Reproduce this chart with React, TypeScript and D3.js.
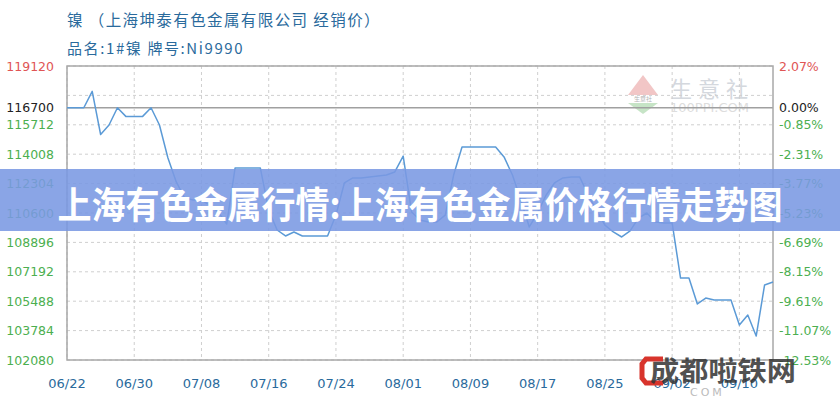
import * as d3 from 'd3'

// 镍 1# Ni9990 daily price, 06/22 .. 09/14
const startDate = '2020-06-22'
const endDate = '2020-09-14'
const prices = [
  116700, 116700, 116700, 117650, 115150, 115700, 116700, 116200, 116200, 116200,
  116700, 115700, 113800, 112400, 111470, 111350, 111350, 111060, 110650, 109960,
  113210, 113210, 113210, 113210, 110770, 109615, 109270, 109500, 109270, 109270,
  109270, 109270, 110480, 112340, 112630, 112630, 112690, 112750, 112800, 112980,
  113900, 110660, 110200, 110080, 110080, 110480, 112800, 114430, 114430, 114430,
  114430, 114430, 113850, 112800, 111350, 109790, 110600, 111640, 112340, 112630,
  112690, 112690, 111640, 110770, 109900, 109500, 109210, 109560, 110310, 110600,
  110080, 110020, 110020, 106830, 106830, 105330, 105670, 105560, 105560, 105560,
  104110, 104690, 103470, 106430, 106600
]
const basePrice = 116700
const gridValues = [119120, 117416, 116700, 115712, 114008, 112304, 110600, 108896, 107192, 105488, 103784, 102080]
const leftLabels = [119120, 116700, 115712, 114008, 112304, 110600, 108896, 107192, 105488, 103784, 102080]
const rightLabels = ['2.07%', '0.00%', '-0.85%', '-2.31%', '-3.77%', '-5.23%', '-6.69%', '-8.15%', '-9.61%', '-11.07%', '-12.53%']
const xTickLabels = ['06/22', '06/30', '07/08', '07/16', '07/24', '08/01', '08/09', '08/17', '08/25', '09/02', '09/10']

const W = 840
const H = 400
const plot = { left: 67, right: 773, top: 66, bottom: 360 }

const RED = '#e05555'
const GREEN = '#4caf50'
const BLUE = '#2a6a9c'

export default function App() {
  const parse = d3.timeParse('%Y-%m-%d')
  const start = parse(startDate) as Date
  const end = parse(endDate) as Date
  const dates = d3.timeDay.range(start, d3.timeDay.offset(end, 1))
  const data = prices.map((v, i) => ({ date: dates[i], value: v }))

  const x = d3.scaleTime().domain([start, end]).range([plot.left, plot.right])
  const y = d3.scaleLinear().domain([102080, 119120]).range([plot.bottom, plot.top])

  const tickDates = xTickLabels.map(s => parse('2020-' + s.replace('/', '-')) as Date)

  const line = d3.line<{ date: Date; value: number }>()
    .x(d => x(d.date))
    .y(d => y(d.value))

  const labelColor = (v: number) => (v > basePrice ? RED : v === basePrice ? '#222' : GREEN)

  return (
    <div style={{ position: 'fixed', left: 0, top: 0 }}>
      <svg width={W} height={H} style={{ display: 'block', background: '#fff' }}>
        {/* heading */}
        <text x={67} y={26} fontFamily="'Noto Sans CJK SC'" fontSize={15.5} letterSpacing={1.4} fill={BLUE}>
          镍 （上海坤泰有色金属有限公司 经销价）
        </text>
        <text x={67} y={54} fontFamily="'Noto Sans CJK SC'" fontSize={15} letterSpacing={1.6} fill={BLUE}>
          品名:1#镍 牌号:Ni9990
        </text>

        {/* 100ppi watermark */}
        <g opacity={0.75}>
          <path d="M628,95 L643,75 L658,95 Z" fill="#eeb4b4" />
          <path d="M628,103 L658,103 L643,114 Z" fill="#b4dcb4" />
          <text x={643} y={101} textAnchor="middle" fontSize={6} fill="#999" fontFamily="'Noto Sans CJK SC'">生意社</text>
          <text x={670} y={97} fontSize={22} letterSpacing={6} fill="#c6cbd3" fontFamily="'Noto Sans CJK SC'">生意社</text>
          <text x={670} y={112} fontSize={13} fill="#d2d2d2" fontFamily="DejaVu Sans">100PPI.COM</text>
        </g>

        {/* grid */}
        {gridValues.map(v => (
          <line key={'h' + v} x1={plot.left} x2={plot.right} y1={y(v)} y2={y(v)}
            stroke={v === basePrice ? '#a0a0a0' : '#cfcfcf'}
            strokeWidth={v === basePrice ? 1.5 : 1}
            strokeDasharray={v === basePrice ? undefined : '3,3'} />
        ))}
        {tickDates.map((d, i) => (
          <line key={'v' + i} x1={x(d)} x2={x(d)} y1={plot.top} y2={plot.bottom}
            stroke="#cfcfcf" strokeDasharray="3,3" />
        ))}
        <rect x={plot.left} y={plot.top} width={plot.right - plot.left} height={plot.bottom - plot.top}
          fill="none" stroke="#a8a8a8" strokeWidth={1.5} />

        {/* price line */}
        <path d={line(data) || ''} fill="none" stroke="#5b9ad6" strokeWidth={1.5} strokeLinejoin="round" />

        {/* left axis */}
        {leftLabels.map(v => (
          <text key={'l' + v} x={54} y={y(v) + 4.5} textAnchor="end" fontFamily="'DejaVu Sans'" fontSize={12.5}
            fill={labelColor(v)}>{v}</text>
        ))}
        {/* right axis */}
        {leftLabels.map((v, i) => (
          <text key={'r' + v} x={779} y={y(v) + 4.5} fontFamily="'DejaVu Sans'" fontSize={12.5}
            fill={labelColor(v)}>{rightLabels[i]}</text>
        ))}
        {/* x axis */}
        {tickDates.map((d, i) => (
          <text key={'x' + i} x={x(d)} y={388} textAnchor="middle" fontFamily="'DejaVu Sans'" fontSize={13}
            fill={BLUE}>{xTickLabels[i]}</text>
        ))}

        {/* banner overlay */}
        <rect x={0} y={169} width={W} height={62} fill="rgb(122,152,226)" opacity={0.88} />
        <text x={420} y={219} textAnchor="middle" fontFamily="'Noto Sans CJK SC'" fontWeight="bold"
          fontSize={37} fill="#fff" textLength={725} lengthAdjust="spacingAndGlyphs">
          上海有色金属行情:上海有色金属价格行情走势图
        </text>

        {/* bottom-right watermark */}
        <path d="M663,359 L646,359 L642,364 L642,378 L646,383 L663,383" fill="none" stroke="#d8342c" strokeWidth={5} />
        <text x={650} y={381} fontFamily="'Noto Sans CJK SC'" fontWeight="bold" fontSize={27} fill="#333" opacity={0.85}
          textLength={146} lengthAdjust="spacingAndGlyphs">成都啦铁网</text>
        <text x={690} y={396} fontFamily="'DejaVu Sans'" fontSize={11} fill="#bbb" letterSpacing={3}>COM</text>
      </svg>
    </div>
  )
}
